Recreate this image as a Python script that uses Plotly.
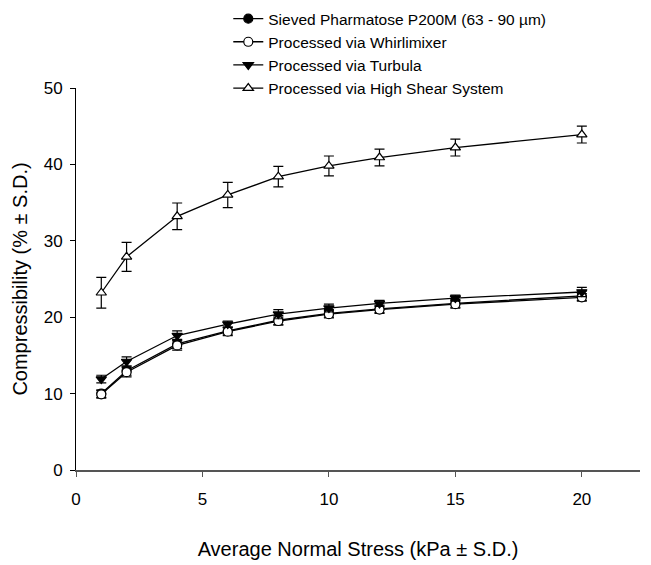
import plotly.graph_objects as go

x = [1, 2, 4, 6, 8, 10, 12, 15, 20]

sieved = [10.0, 13.0, 16.5, 18.2, 19.6, 20.5, 21.1, 21.8, 22.8]
sieved_sd = [0.5, 0.6, 0.6, 0.5, 0.6, 0.5, 0.5, 0.5, 0.6]

whirl = [9.9, 12.8, 16.3, 18.1, 19.5, 20.4, 21.0, 21.7, 22.6]
whirl_sd = [0.5, 0.6, 0.6, 0.5, 0.5, 0.5, 0.5, 0.5, 0.5]

turbula = [11.9, 14.2, 17.6, 19.1, 20.4, 21.2, 21.8, 22.5, 23.3]
turbula_sd = [0.5, 0.6, 0.6, 0.4, 0.6, 0.5, 0.4, 0.4, 0.6]

hss = [23.2, 27.9, 33.2, 36.0, 38.4, 39.8, 40.9, 42.2, 43.9]
hss_sd = [2.0, 1.9, 1.75, 1.65, 1.35, 1.3, 1.1, 1.1, 1.1]

names = [
    "Sieved Pharmatose P200M (63 - 90 µm)",
    "Processed via Whirlimixer",
    "Processed via Turbula",
    "Processed via High Shear System",
]

fig = go.Figure()

def add(y, sd, name, symbol, fill):
    fig.add_trace(go.Scatter(
        x=x, y=y, name=name, mode="lines+markers",
        line=dict(color="black", width=1.3),
        marker=dict(symbol=symbol, size=9, color=fill,
                    line=dict(color="black", width=1.2)),
        error_y=dict(type="data", array=sd, color="black",
                     thickness=1.2, width=5),
    ))

add(sieved, sieved_sd, names[0], "circle", "black")
add(whirl, whirl_sd, names[1], "circle", "white")
add(turbula, turbula_sd, names[2], "triangle-down", "black")
add(hss, hss_sd, names[3], "triangle-up", "white")

fig.update_layout(
    width=651, height=565,
    margin=dict(l=68, r=19, t=80, b=103, autoexpand=False),
    plot_bgcolor="white", paper_bgcolor="white",
    font=dict(family="Liberation Sans, Arial, sans-serif", size=17, color="black"),
    showlegend=True,
    legend=dict(x=0.27, y=1.225, xanchor="left", yanchor="top",
                bgcolor="rgba(0,0,0,0)", font=dict(size=15.5),
                tracegroupgap=0, itemwidth=30),
    xaxis=dict(
        title=dict(text="Average Normal Stress (kPa ± S.D.)", standoff=34),
        range=[0, 22.3], tickvals=[0, 5, 10, 15, 20],
        showgrid=False, zeroline=False,
        showline=True, linecolor="#555555", linewidth=2,
        ticks="outside", ticklen=5, tickcolor="#555555", tickwidth=1,
        tickfont=dict(size=17), ticklabelstandoff=8,
    ),
    yaxis=dict(
        title=dict(text="Compressibility (% ± S.D.)", standoff=10),
        range=[0, 50], tickvals=[0, 10, 20, 30, 40, 50],
        showgrid=False, zeroline=False,
        showline=True, linecolor="black", linewidth=1,
        ticks="outside", ticklen=5, tickcolor="black", tickwidth=1,
        tickfont=dict(size=17), ticklabelstandoff=4,
    ),
)

fig.write_html("out.html")
